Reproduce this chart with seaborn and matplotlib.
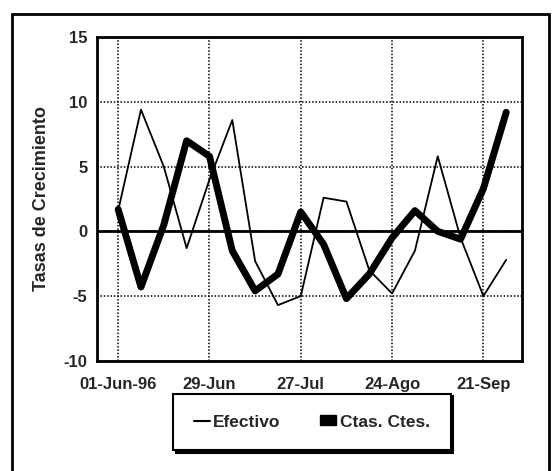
import pandas as pd
import matplotlib
matplotlib.use("Agg")
import matplotlib.pyplot as plt
import seaborn as sns
from matplotlib.patches import Rectangle, Patch
from matplotlib.lines import Line2D

# weekly growth rates, 01-Jun-96 .. 28-Sep-96
semanas = ['01-Jun-96', '08-Jun', '15-Jun', '22-Jun', '29-Jun', '06-Jul', '13-Jul', '20-Jul',
           '27-Jul', '03-Ago', '10-Ago', '17-Ago', '24-Ago', '31-Ago', '07-Sep', '14-Sep',
           '21-Sep', '28-Sep']
efectivo = [1.6, 9.4, 5.0, -1.3, 4.0, 8.6, -2.3, -5.7, -5.0, 2.6, 2.3, -3.0,
            -4.8, -1.5, 5.8, -0.5, -5.0, -2.2]
ctas_ctes = [1.7, -4.3, 0.5, 7.0, 5.8, -1.5, -4.6, -3.3, 1.5, -1.0, -5.2, -3.3,
             -0.5, 1.6, 0.0, -0.6, 3.3, 9.2]
tick_pos = [0, 4, 8, 12, 16]
tick_labels = ['01-Jun-96', '29-Jun', '27-Jul', '24-Ago', '21-Sep']

df = pd.DataFrame({'semana': range(len(semanas)), 'Efectivo': efectivo,
                   'Ctas. Ctes.': ctas_ctes})

sns.set_style("white")
plt.rcParams['font.family'] = ['Liberation Sans', 'DejaVu Sans']
plt.rcParams['font.weight'] = 'bold'
plt.rcParams['axes.unicode_minus'] = False

fig = plt.figure(figsize=(5.52, 4.71), dpi=100)
ax = fig.add_axes([0.176, 0.234, 0.770, 0.687])

ax.axhline(0, color='black', lw=2.0, zorder=1)
sns.lineplot(data=df, x='semana', y='Efectivo', color='black', lw=1.3,
             ax=ax, zorder=3)
sns.lineplot(data=df, x='semana', y='Ctas. Ctes.', color='black', lw=5.0,
             ax=ax, zorder=2)

ax.set_xlim(-0.92, 17.7)
ax.set_ylim(-10, 15)
ax.set_yticks([-10, -5, 0, 5, 10, 15])
ax.set_xticks(tick_pos)
ax.set_xticklabels(tick_labels)
ax.tick_params(axis='y', direction='in', length=4, width=2, labelsize=12, pad=7)
ax.tick_params(axis='x', length=0, labelsize=12, pad=12)
for lab in ax.get_xticklabels() + ax.get_yticklabels():
    lab.set_fontweight('bold')

ax.grid(True, color='black', linestyle=(0, (1, 1.2)), linewidth=1.1)
for s in ax.spines.values():
    s.set_color('black')
    s.set_linewidth(2)

ax.set_xlabel('')
ax.set_ylabel('Tasas de Crecimiento', fontsize=13, fontweight='bold', labelpad=10)

handles = [Line2D([], [], color='black', lw=1.5),
           Patch(facecolor='black', edgecolor='black')]
leg = fig.legend(handles, ['Efectivo', 'Ctas. Ctes.'], loc='center',
                 bbox_to_anchor=(0.565, 0.104), ncol=2,
                 frameon=True, fancybox=False, handlelength=0.9, handleheight=0.5,
                 handletextpad=0.2, columnspacing=2.3, borderpad=1.2,
                 borderaxespad=0, fontsize=12.5,
                 shadow={'color': 'black', 'alpha': 1, 'ox': 2, 'oy': -2})
leg.get_frame().set_edgecolor('black')
leg.get_frame().set_linewidth(1.5)
for t in leg.get_texts():
    t.set_fontweight('bold')

# outer chart frame
fig.patches.append(Rectangle((12 / 552, -0.2), 537 / 552, 1.2 - 14 / 471,
                             transform=fig.transFigure, fill=False,
                             edgecolor='black', linewidth=2))

fig.savefig('out.png', dpi=100)
